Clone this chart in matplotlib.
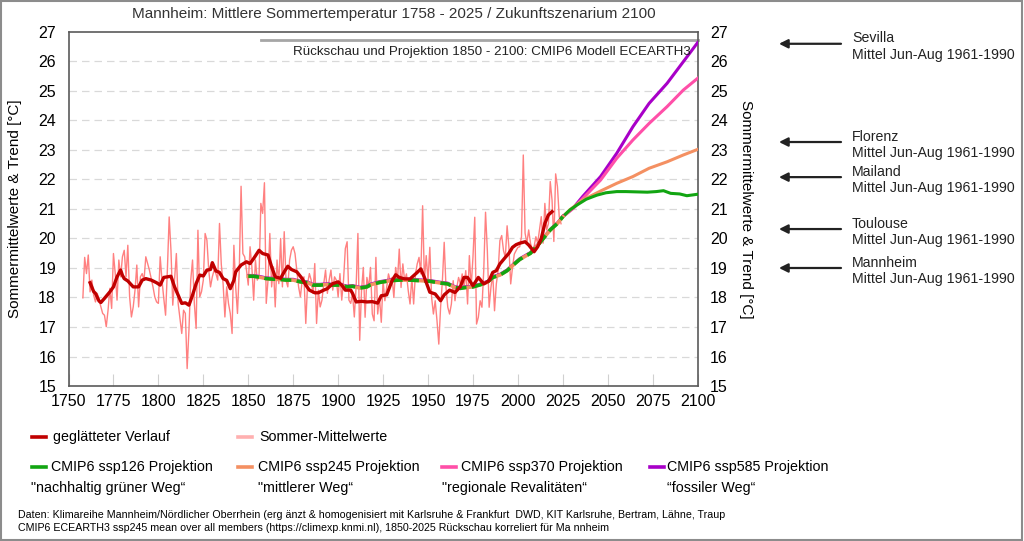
import matplotlib
matplotlib.use('Agg')
import matplotlib.pyplot as plt
from matplotlib.lines import Line2D
from matplotlib.patches import Rectangle
import numpy as np

plt.rcParams['font.family'] = ['Liberation Sans', 'DejaVu Sans']

# annual summer means (Jun-Aug) Mannheim, 1758-2024
annual_years = np.arange(1758, 2025)
annual_temp = [
    17.99, 19.36, 18.81, 19.44, 18.19, 18.59, 18.08, 17.85, 18.14, 17.91,
    17.68, 17.46, 17.40, 17.01, 17.57, 18.31, 17.63, 19.49, 18.81, 17.91,
    19.27, 18.70, 19.38, 19.60, 18.70, 19.77, 18.02, 17.34, 17.68, 18.25,
    19.10, 17.68, 18.70, 18.81, 18.59, 19.38, 19.15, 18.93, 18.64, 18.36,
    18.02, 17.85, 17.80, 19.38, 18.59, 17.97, 17.40, 18.93, 20.73, 19.60,
    17.74, 18.59, 19.49, 17.80, 17.30, 16.78, 17.57, 17.46, 15.59, 16.89,
    18.59, 19.27, 17.80, 16.95, 20.28, 18.02, 18.20, 18.59, 20.17, 19.94,
    18.93, 18.36, 18.70, 18.93, 18.81, 18.59, 20.51, 19.12, 18.47, 17.34,
    18.36, 17.80, 17.46, 16.78, 19.77, 18.36, 17.46, 18.93, 21.77, 19.49,
    19.38, 18.93, 18.42, 19.72, 19.04, 17.91, 19.27, 18.59, 18.70, 21.19,
    20.85, 21.89, 17.80, 18.59, 20.17, 18.36, 19.04, 17.68, 19.27, 18.47,
    20.00, 18.36, 20.23, 18.59, 18.36, 19.27, 19.60, 19.72, 19.49, 18.93,
    18.36, 18.02, 18.59, 18.70, 17.12, 18.47, 18.81, 18.59, 18.14, 19.15,
    17.12, 18.25, 17.68, 17.91, 18.47, 18.93, 18.14, 18.59, 18.93, 18.25,
    18.70, 18.59, 18.02, 18.81, 17.91, 18.59, 19.66, 19.89, 17.91, 17.80,
    18.14, 17.34, 18.36, 20.17, 16.55, 18.23, 19.02, 17.33, 18.68, 18.34,
    19.02, 17.44, 17.21, 19.36, 17.44, 18.00, 17.16, 18.57, 17.89, 18.34,
    18.80, 18.57, 18.68, 18.00, 19.02, 18.57, 19.64, 18.34, 19.14, 18.57,
    18.80, 18.23, 17.78, 18.68, 17.78, 18.80, 19.14, 19.36, 18.80, 21.11,
    18.57, 19.42, 18.57, 19.70, 18.00, 17.44, 17.89, 17.21, 16.42, 17.67,
    18.57, 19.87, 18.34, 17.67, 17.44, 17.78, 18.57, 17.89, 18.34, 18.68,
    18.46, 18.80, 18.34, 18.91, 17.78, 19.42, 18.34, 19.36, 20.72, 17.10,
    17.33, 17.89, 17.67, 18.91, 20.89, 19.59, 17.67, 18.34, 18.80, 17.55,
    18.46, 18.91, 19.93, 20.10, 19.59, 19.36, 20.43, 19.70, 18.46, 19.02,
    19.47, 19.59, 19.70, 19.72, 20.06, 22.83, 20.18, 19.84, 20.29, 19.84,
    19.61, 19.72, 20.06, 19.84, 20.29, 20.74, 19.84, 21.19, 20.29, 20.51,
    21.93, 21.30, 19.90, 22.19, 21.76, 20.74, 20.50,
]

# smoothed curve
smooth_years = [1762, 1764, 1765, 1767, 1768, 1770, 1773, 1775, 1777, 1779,
                1780, 1781, 1783, 1786, 1789, 1791, 1793, 1796, 1799, 1801,
                1803, 1805, 1807, 1809, 1811, 1813, 1815, 1817, 1819, 1821,
                1823, 1825, 1827, 1829, 1830, 1832, 1834, 1836, 1838, 1840,
                1842, 1843, 1846, 1849, 1851, 1853, 1856, 1858, 1861, 1863,
                1865, 1868, 1870, 1872, 1874, 1877, 1880, 1882, 1884, 1887,
                1889, 1892, 1894, 1897, 1900, 1902, 1904, 1907, 1908, 1910,
                1913, 1916, 1919, 1922, 1924, 1927, 1930, 1932, 1934, 1937,
                1940, 1942, 1944, 1946, 1948, 1951, 1954, 1957, 1959, 1962,
                1965, 1968, 1970, 1972, 1975, 1978, 1981, 1984, 1986, 1988,
                1990, 1993, 1995, 1997, 1999, 2001, 2004, 2006, 2009, 2011,
                2013, 2015, 2017, 2019]
smooth_temp = [18.50, 18.20, 18.14, 17.88, 17.83, 17.97, 18.19, 18.36, 18.70, 18.93,
               18.75, 18.64, 18.56, 18.36, 18.36, 18.59, 18.64, 18.59, 18.50, 18.42,
               18.68, 18.70, 18.72, 18.36, 18.08, 17.80, 17.82, 17.74, 18.08, 18.47,
               18.76, 18.73, 18.93, 18.95, 19.18, 18.90, 18.85, 18.64, 18.58, 18.30,
               18.58, 18.87, 19.10, 19.21, 19.15, 19.32, 19.60, 19.49, 19.44, 19.04,
               18.70, 18.65, 18.87, 19.06, 18.95, 18.87, 18.64, 18.42, 18.25, 18.16,
               18.16, 18.25, 18.30, 18.47, 18.53, 18.42, 18.25, 18.25, 18.14, 17.85,
               17.87, 17.85, 17.86, 17.81, 18.06, 18.09, 18.57, 18.77, 18.68, 18.63,
               18.63, 18.74, 18.85, 18.97, 18.68, 18.18, 18.12, 17.89, 18.09, 18.25,
               18.17, 18.37, 18.68, 18.68, 18.40, 18.68, 18.46, 18.57, 18.85, 18.91,
               19.14, 19.36, 19.50, 19.70, 19.79, 19.84, 19.89, 19.78, 19.55, 19.72,
               20.00, 20.51, 20.80, 20.91]

# CMIP6 ECEARTH3 hindcast (shared by all scenarios) 1850-2025
hind_years = [1850, 1853, 1857, 1860, 1864, 1868, 1871, 1875, 1879, 1883,
              1886, 1890, 1894, 1897, 1901, 1905, 1908, 1912, 1916, 1918,
              1923, 1929, 1934, 1940, 1946, 1951, 1957, 1961, 1965, 1968,
              1971, 1975, 1979, 1983, 1986, 1990, 1994, 1997, 2001, 2007,
              2012, 2018, 2022, 2025]
hind_temp = [18.72, 18.72, 18.68, 18.64, 18.62, 18.61, 18.59, 18.59, 18.53, 18.50,
             18.42, 18.42, 18.44, 18.42, 18.42, 18.36, 18.38, 18.32, 18.36, 18.43,
             18.51, 18.57, 18.59, 18.59, 18.57, 18.55, 18.49, 18.46, 18.34, 18.31,
             18.34, 18.36, 18.43, 18.52, 18.68, 18.76, 18.91, 19.08, 19.29, 19.50,
             19.84, 20.29, 20.51, 20.74]

# scenario projections 2025-2100
ssp126_years = [2029, 2033, 2038, 2044, 2049, 2055, 2060, 2066, 2072, 2077, 2081, 2085, 2090, 2094, 2100]
ssp126_temp = [20.97, 21.14, 21.33, 21.47, 21.55, 21.59, 21.59, 21.58, 21.57, 21.59, 21.62, 21.53, 21.51, 21.45, 21.50]
ssp245_years = [2029, 2036, 2046, 2055, 2064, 2073, 2083, 2092, 2100]
ssp245_temp = [20.98, 21.30, 21.61, 21.87, 22.10, 22.38, 22.60, 22.83, 23.02]
ssp370_years = [2031, 2036, 2046, 2055, 2064, 2073, 2083, 2092, 2100]
ssp370_temp = [21.03, 21.35, 21.98, 22.72, 23.34, 23.90, 24.47, 25.03, 25.43]
ssp585_years = [2031, 2036, 2046, 2055, 2064, 2073, 2083, 2092, 2100]
ssp585_temp = [21.05, 21.42, 22.10, 22.89, 23.79, 24.58, 25.26, 25.99, 26.64]

# reference cities, summer mean 1961-1990
cities = ['Sevilla', 'Florenz', 'Mailand', 'Toulouse', 'Mannheim']
city_temp = [26.60, 23.27, 22.08, 20.32, 19.00]

fig = plt.figure(figsize=(10.24, 5.41), dpi=100)
ax = fig.add_axes([0.0669, 0.2865, 0.6144, 0.6544])
ax.set_xlim(1750, 2100)
ax.set_ylim(15, 27)

for y in range(16, 27):
    ax.axhline(y, color='#d9d9d9', lw=0.9, ls=(0, (6, 4)), zorder=0)

ax.plot(annual_years, annual_temp, color='#ff8080', lw=1.0, zorder=2, label='Sommer-Mittelwerte')

scen = [
    (ssp585_years, ssp585_temp, '#a800c8', 'CMIP6 ssp585 Projektion'),
    (ssp370_years, ssp370_temp, '#ff4fa8', 'CMIP6 ssp370 Projektion'),
    (ssp245_years, ssp245_temp, '#f49062', 'CMIP6 ssp245 Projektion'),
    (ssp126_years, ssp126_temp, '#12a512', 'CMIP6 ssp126 Projektion'),
]
scen_lines = {}
for yrs, vals, col, lab in scen:
    ln, = ax.plot([hind_years[-1]] + yrs, [hind_temp[-1]] + vals, color=col, lw=2.2, zorder=3, label=lab)
    scen_lines[lab] = ln
ax.plot(hind_years, [t + 0.04 for t in hind_temp], color='#a800c8', lw=1.6, zorder=3)
ax.plot(hind_years, hind_temp, color='#f49062', lw=2.6, zorder=3)
ax.plot(hind_years, hind_temp, color='#12a512', lw=2.6, ls=(0, (3, 1.5)), zorder=3)

red, = ax.plot(smooth_years, smooth_temp, color='#c00000', lw=2.4, zorder=4, label='geglätteter Verlauf')

# header line and note
ax.plot([1857, 2100], [26.73, 26.73], color='#a6a6a6', lw=2, zorder=1, clip_on=False)
ax.text(2096, 26.33, 'Rückschau und Projektion 1850 - 2100: CMIP6 Modell ECEARTH3',
        ha='right', va='center', fontsize=9.6, color='#222222')

ax.set_xticks(range(1750, 2101, 25))
ax.set_yticks(range(15, 28))
ax.tick_params(axis='x', direction='in', length=9, width=0.8, color='#d0d0d0', labelsize=11.5, pad=6)
ax.tick_params(axis='y', length=0, labelsize=11.5, pad=9)
for s in ax.spines.values():
    s.set_color('#5a5a5a')
    s.set_linewidth(1.2)
ax.set_ylabel('Sommermittelwerte & Trend [°C]', fontsize=11)
ax.yaxis.set_label_coords(-0.074, 0.5)

ax2 = ax.twinx()
ax2.set_ylim(15, 27)
ax2.set_yticks(range(15, 28))
ax2.tick_params(axis='y', length=0, labelsize=11.5, pad=9)
for s in ax2.spines.values():
    s.set_visible(False)
ax2.set_ylabel('Sommermittelwerte & Trend [°C]', fontsize=11, rotation=270, va='bottom')
ax2.yaxis.set_label_coords(1.066, 0.5)

fig.text(0.385, 0.974, 'Mannheim: Mittlere Sommertemperatur 1758 - 2025 / Zukunftszenarium 2100',
         ha='center', va='center', fontsize=11, color='#333333')

# arrows to reference cities
for name, t in zip(cities, city_temp):
    ax.annotate('', xy=(0.758, t), xytext=(0.824, t),
                xycoords=('figure fraction', 'data'), textcoords=('figure fraction', 'data'),
                arrowprops=dict(arrowstyle='-|>', color='#222222', lw=1.6, mutation_scale=13),
                annotation_clip=False)
    ax.annotate(name + '\nMittel Jun-Aug 1961-1990', xy=(0.832, t - 0.09),
                xycoords=('figure fraction', 'data'), ha='left', va='center',
                fontsize=10.2, linespacing=1.2, color='#222222', annotation_clip=False)

# legend below the plot
def legend_entry(xh, y, line, text, xt):
    fig.add_artist(Line2D([xh / 1024, (xh + 14) / 1024], [1 - y / 541] * 2,
                          color=line.get_color(), lw=2.6, transform=fig.transFigure))
    fig.text(xt / 1024, 1 - y / 541, text, ha='left', va='center', fontsize=10.3)

legend_entry(32, 437, red, 'geglätteter Verlauf', 53)
legend_entry(238, 437, Line2D([], [], color='#ffb0b0'), 'Sommer-Mittelwerte', 259)
legend_entry(32, 467, scen_lines['CMIP6 ssp126 Projektion'], 'CMIP6 ssp126 Projektion', 51)
legend_entry(238, 467, scen_lines['CMIP6 ssp245 Projektion'], 'CMIP6 ssp245 Projektion', 258)
legend_entry(442, 467, scen_lines['CMIP6 ssp370 Projektion'], 'CMIP6 ssp370 Projektion', 461)
legend_entry(650, 467, scen_lines['CMIP6 ssp585 Projektion'], 'CMIP6 ssp585 Projektion', 667)
for xt, txt in [(31, '"nachhaltig grüner Weg\u201c'), (258, '"mittlerer Weg\u201c'),
                (442, '"regionale Revalitäten\u201c'), (667, '\u201cfossiler Weg\u201c')]:
    fig.text(xt / 1024, 1 - 488 / 541, txt, ha='left', va='center', fontsize=10.3)

fig.text(18 / 1024, 1 - 515 / 541,
         'Daten: Klimareihe Mannheim/Nördlicher Oberrhein (erg änzt & homogenisiert mit Karlsruhe & Frankfurt  DWD, KIT Karlsruhe, Bertram, Lähne, Traup',
         ha='left', va='center', fontsize=7.7)
fig.text(18 / 1024, 1 - 528 / 541,
         'CMIP6 ECEARTH3 ssp245 mean over all members (https://climexp.knmi.nl), 1850-2025 Rückschau korreliert für Ma nnheim',
         ha='left', va='center', fontsize=7.7)

fig.add_artist(Rectangle((0.001, 0.002), 0.997, 0.996, transform=fig.transFigure,
                         fill=False, edgecolor='#8c8c8c', lw=1.5))

plt.savefig('out.png', dpi=100)
